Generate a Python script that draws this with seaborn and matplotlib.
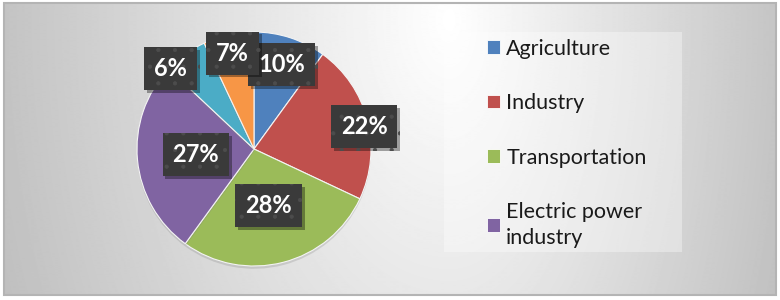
import numpy as np
import matplotlib
matplotlib.use("Agg")
import matplotlib.pyplot as plt
import matplotlib.patheffects as pe
from matplotlib.patches import Patch, Rectangle
import seaborn as sns

# data
sectors = ["Agriculture", "Industry", "Transportation", "Electric power\nindustry",
           "Residential", "Commercial"]
shares = [10, 22, 28, 27, 6, 7]
legend_count = 4  # only the first four sectors appear in the legend

sns.set_theme(style="white")
plt.rcParams["font.family"] = ["Lato", "DejaVu Sans"]
plt.rcParams["hatch.linewidth"] = 0.6

colors = sns.color_palette(["#4F81BD", "#C0504D", "#9BBB59", "#8064A2", "#4BACC6", "#F79646"])

W, H = 780, 300
fig = plt.figure(figsize=(W / 100, H / 100), dpi=100)
fig.patch.set_facecolor("white")

# background gradient panel with thin frame
bg = fig.add_axes([0, 0, 1, 1])
bg.set_xlim(0, W)
bg.set_ylim(H, 0)
bg.axis("off")
xx, yy = np.meshgrid(np.arange(4, 777), np.arange(3, 296))
sx = np.where(xx < 450, 440.0, 330.0)
d = np.sqrt(((xx - 450) / sx) ** 2 + ((yy - 20) / 700.0) ** 2)
shade = np.clip(1 - 0.23 * d, 0, 1)
bg.imshow(shade, cmap="gray", vmin=0, vmax=1, extent=(4, 776, 295, 3),
          interpolation="bilinear", aspect="auto", zorder=0)
bg.add_patch(Rectangle((4, 3), 772, 292, fill=False, edgecolor="#b4b4b4", lw=1.5, zorder=1))
# legend panel
bg.add_patch(Rectangle((444, 32), 238, 220, facecolor="white", alpha=0.35,
                       edgecolor="none", zorder=1))

# pie
cx, cy, r = 254, 149, 117
ax = fig.add_axes([(cx - r) / W, (H - cy - r) / H, 2 * r / W, 2 * r / H])
wedges, _ = ax.pie(shares, colors=colors, startangle=90, counterclock=False, radius=1,
                   wedgeprops=dict(edgecolor="#f4f4f4", linewidth=0.8))
ax.set_xlim(-1, 1)
ax.set_ylim(-1, 1)
ax.set_aspect("auto")
ax.axis("off")
for w in wedges:
    w.set_path_effects([pe.SimplePatchShadow(offset=(0, -2), shadow_rgbFace="#808080", alpha=0.25),
                        pe.Normal()])

label_dist = [0.76, 0.96, 0.5, 0.5, 0.99, 0.84]
label_turn = [0, 3, 0, 0, -10, 0]
for w, v, rd, dt in zip(wedges, shares, label_dist, label_turn):
    ang = np.deg2rad((w.theta1 + w.theta2) / 2 - dt)
    t = ax.text(rd * np.cos(ang), rd * np.sin(ang), f"{v}%", ha="center", va="center",
                color="white", fontsize=17, fontweight="bold", zorder=5,
                bbox=dict(boxstyle="square,pad=0.42", facecolor="#3a3a3a",
                          edgecolor="#4c4c4c", linewidth=0, hatch="."))
    t.get_bbox_patch().set_path_effects([
        pe.SimplePatchShadow(offset=(2, -2), shadow_rgbFace="black", alpha=0.35), pe.Normal()])

handles = [Patch(facecolor=c, edgecolor="white", linewidth=0.6) for c in colors[:legend_count]]
leg = fig.legend(handles, sectors[:legend_count], loc="upper left",
                 bbox_to_anchor=(476 / W, 1 - 28 / H), frameon=False, fontsize=15.5,
                 handlelength=0.6, handleheight=0.6, handletextpad=0.3,
                 labelspacing=1.6, borderpad=0, labelcolor="#1a1a1a")
leg.get_texts()[3].set_linespacing(1.35)

fig.savefig("out.png", dpi=100)
